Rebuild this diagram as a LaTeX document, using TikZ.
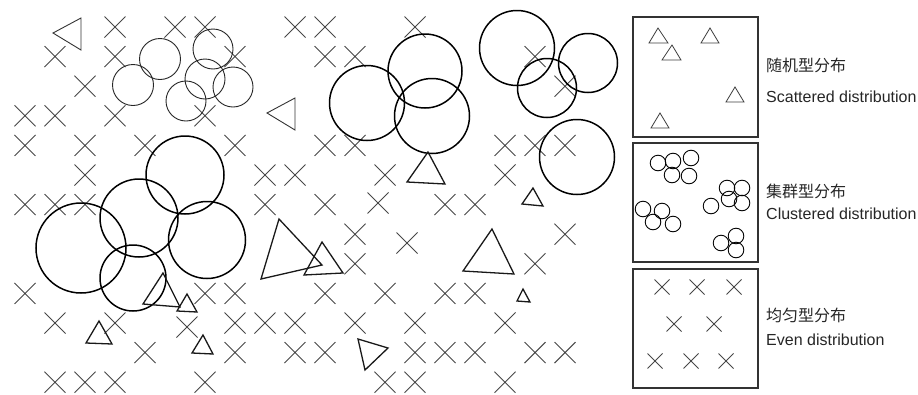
\documentclass[tikz,border=0pt]{standalone}
\usepackage{fontspec}
\setmainfont{Liberation Sans}
\newfontfamily\cjk{Noto Sans CJK SC}
\begin{document}
\begin{tikzpicture}[x=1pt,y=-1pt,
  crossline/.style={draw=black!72, line width=0.9pt},
  xc/.pic={\draw[crossline] (-10.5,-10.5) -- (10.5,10.5) (-10.5,10.5) -- (10.5,-10.5);},
  xs/.pic={\draw[crossline, line width=0.8pt] (-7.5,-7.5) -- (7.5,7.5) (-7.5,7.5) -- (7.5,-7.5);},
  thinc/.style={draw=black!85, line width=0.9pt},
  thickc/.style={draw=black, line width=1.5pt},
  tri/.style={draw=black!90, line width=1.3pt, line join=miter},
  thintri/.style={draw=black!80, line width=0.9pt},
  lgtri/.style={draw=black!75, line width=0.8pt},
  lgcirc/.style={draw=black, line width=0.9pt},
  box/.style={draw=black!80, line width=1.2pt},
  lbl/.style={anchor=west, inner sep=0pt, text=black!85, font=\fontsize{16}{19}\selectfont}]
\useasboundingbox (0,0) rectangle (918,394);
\fill[white] (0,0) rectangle (918,394);
% grid crosses
\foreach \k/\js in {0/{3,5,6,9,10,13},1/{1,3,7,10,11,17},2/{2,18},3/{0,1,3,6},
  4/{0,2,4,7,10,11,16,17,18},5/{2,8,9,12,16},6/{0,1,2,8,10,14,15},7/{11,18},
  8/{11,17},9/{0,6,7,10,12,14,15},10/{1,3,7,8,9,11,13,16},
  11/{4,7,9,10,13,14,15,17,18},12/{1,2,3,6,12,13,16}}{
  \foreach \j in \js {\pic at ({25+30*\j},{27+29.6*\k}) {xc};}
}
\pic at (378,203) {xc};
\pic at (407,243) {xc};
\pic at (187,327) {xc};
% thin clustered circles
\draw[thinc] (160,59) circle[radius=20.5];
\draw[thinc] (133,85) circle[radius=20.5];
\draw[thinc] (213,49) circle[radius=20];
\draw[thinc] (205,79) circle[radius=20];
\draw[thinc] (233,87) circle[radius=20];
\draw[thinc] (186,101) circle[radius=20];
% thick circles left
\draw[thickc] (185,175) circle[radius=39];
\draw[thickc] (81,248) circle[radius=45];
\draw[thickc] (139,218) circle[radius=39];
\draw[thickc] (207,240) circle[radius=38.5];
\draw[thickc] (133,278) circle[radius=33];
% thick circles right
\draw[thickc] (367,103) circle[radius=37.5];
\draw[thickc] (425,71) circle[radius=37];
\draw[thickc] (432,116) circle[radius=37.5];
\draw[thickc] (517,48) circle[radius=37.5];
\draw[thickc] (588,63) circle[radius=29.5];
\draw[thickc] (547,88) circle[radius=29.5];
\draw[thickc] (577,157) circle[radius=37.5];
% triangles
\draw[thintri] (53,33) -- (81,18) -- (81,50) -- cycle;
\draw[thintri] (267,113) -- (295,98) -- (295,130) -- cycle;
\draw[tri] (428,152) -- (407,182) -- (445,184) -- cycle;
\draw[tri] (533,188) -- (522,204) -- (543,206) -- cycle;
\draw[tri] (279,219) -- (261,279) -- (322,265) -- cycle;
\draw[tri] (322,242) -- (304,275) -- (343,273) -- cycle;
\draw[tri] (492,229) -- (463,271) -- (514,274) -- cycle;
\draw[tri] (523,289) -- (517,301) -- (530,302) -- cycle;
\draw[tri] (358,339) -- (388,348) -- (365,370) -- cycle;
\draw[tri] (163,273) -- (143,304) -- (180,307) -- cycle;
\draw[tri] (187,294) -- (177,311) -- (197,312) -- cycle;
\draw[tri] (99,321) -- (86,343) -- (112,344) -- cycle;
\draw[tri] (203,335) -- (192,353) -- (213,354) -- cycle;
% legend boxes
\draw[box] (633,17) rectangle (758,137);
\draw[box] (633,143) rectangle (758,262);
\draw[box] (633,269) rectangle (758,388);
% legend triangles
\draw[lgtri] (658,28) -- (649,43) -- (668,43) -- cycle;
\draw[lgtri] (672,45) -- (662,60) -- (681,60) -- cycle;
\draw[lgtri] (710,28) -- (701,43) -- (719,43) -- cycle;
\draw[lgtri] (735,87) -- (726,102) -- (744,102) -- cycle;
\draw[lgtri] (660,113) -- (651,128) -- (669,128) -- cycle;
% legend circles
\foreach \p in {(658,163),(673,161),(691,158),(672,175),(689,176),
  (727,188),(742,188),(729,199),(742,203),(711,206),
  (643,209),(662,211),(653,222),(673,224),
  (721,243),(736,236),(736,250)}{\draw[lgcirc] \p circle[radius=7.8];}
% legend crosses
\foreach \p in {(662,287),(697,287),(734,287),(674,324),(714,324),(655,361),(691,361),(726,361)}{\pic at \p {xs};}
% labels
\node[lbl] (t1) at (766,65) {\cjk 随机型分布};
\node[lbl] (e1) at (766,97) {Scattered distribution};
\node[lbl] (t2) at (766,191) {\cjk 集群型分布};
\node[lbl] (e2) at (766,214) {Clustered distribution};
\node[lbl] (t3) at (766,315) {\cjk 均匀型分布};
\node[lbl] (e3) at (766,340) {Even distribution};
\end{tikzpicture}
\end{document}
